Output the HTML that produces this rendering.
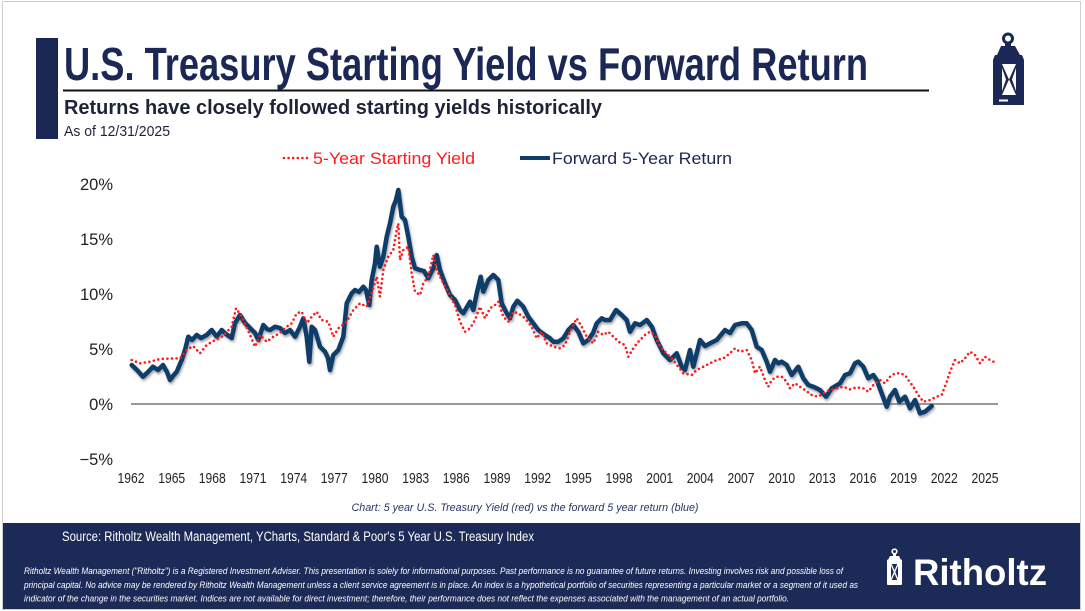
<!DOCTYPE html>
<html>
<head>
<meta charset="utf-8">
<style>
html,body{margin:0;padding:0;background:#fff;width:1085px;height:611px;overflow:hidden;}
svg{display:block;font-family:"Liberation Sans",sans-serif;}
</style>
</head>
<body>
<svg width="1085" height="611" viewBox="0 0 1085 611" xmlns="http://www.w3.org/2000/svg">
<defs>
<filter id="sh" x="-5%" y="-5%" width="110%" height="115%">
<feDropShadow dx="1" dy="2" stdDeviation="1.3" flood-color="#555" flood-opacity="0.55"/>
</filter>
</defs>
<rect x="0" y="0" width="1085" height="611" fill="#fff"/>
<rect x="2.5" y="1.5" width="1078" height="608" fill="none" stroke="#cfcfcf" stroke-width="1"/>

<!-- Header -->
<rect x="36" y="38" width="22" height="101" fill="#1b2754"/>
<text x="64" y="80" font-size="46" font-weight="bold" fill="#1b2754" textLength="804" lengthAdjust="spacingAndGlyphs">U.S. Treasury Starting Yield vs Forward Return</text>
<rect x="63" y="89.5" width="866" height="2" fill="#111"/>
<text x="64" y="114" font-size="20" font-weight="bold" fill="#1f2337" textLength="538" lengthAdjust="spacingAndGlyphs">Returns have closely followed starting yields historically</text>
<text x="64" y="136" font-size="15" fill="#1f2337" textLength="106" lengthAdjust="spacingAndGlyphs">As of 12/31/2025</text>

<!-- Header lantern -->
<g fill="#1b2754">
<circle cx="1008" cy="38.5" r="4.5" fill="none" stroke="#1b2754" stroke-width="3"/>
<rect x="1005" y="42" width="6" height="5"/>
<polygon points="997,55 1001,46 1015,46 1020,55"/>
<polygon points="995,55 1022,55 1024,60 1024,105 993,105 993,60"/>
<polygon points="1002,64 1016,64 1009,79.5" fill="#fff"/>
<polygon points="1002,95 1016,95 1009,79.5" fill="#fff"/>
<polygon points="1002,68 1006,79.5 1002,91" fill="#fff"/>
<polygon points="1016,68 1012,79.5 1016,91" fill="#fff"/>
<rect x="999" y="99.5" width="9" height="2" fill="#fff"/>
</g>

<!-- Legend -->
<line x1="284" y1="158" x2="311" y2="158" stroke="#ff1a1a" stroke-width="2.6" stroke-linecap="round" stroke-dasharray="0 4.6"/>
<text x="313" y="164" font-size="17" fill="#ff1a1a" textLength="162" lengthAdjust="spacingAndGlyphs">5-Year Starting Yield</text>
<line x1="520" y1="158" x2="550" y2="158" stroke="#0f3d6b" stroke-width="4"/>
<text x="552" y="164" font-size="17" fill="#1b2754" textLength="180" lengthAdjust="spacingAndGlyphs">Forward 5-Year Return</text>

<!-- Y axis labels -->
<g font-size="16.5" fill="#222" text-anchor="end">
<text x="113" y="190">20%</text>
<text x="113" y="245">15%</text>
<text x="113" y="300">10%</text>
<text x="113" y="355">5%</text>
<text x="113" y="410">0%</text>
<text x="113" y="465">−5%</text>
</g>

<!-- X axis labels -->
<g font-size="15" fill="#222" text-anchor="middle">
<text x="131" y="483" textLength="27" lengthAdjust="spacingAndGlyphs">1962</text>
<text x="171.7" y="483" textLength="27" lengthAdjust="spacingAndGlyphs">1965</text>
<text x="212.3" y="483" textLength="27" lengthAdjust="spacingAndGlyphs">1968</text>
<text x="253" y="483" textLength="27" lengthAdjust="spacingAndGlyphs">1971</text>
<text x="293.7" y="483" textLength="27" lengthAdjust="spacingAndGlyphs">1974</text>
<text x="334.3" y="483" textLength="27" lengthAdjust="spacingAndGlyphs">1977</text>
<text x="375" y="483" textLength="27" lengthAdjust="spacingAndGlyphs">1980</text>
<text x="415.7" y="483" textLength="27" lengthAdjust="spacingAndGlyphs">1983</text>
<text x="456.3" y="483" textLength="27" lengthAdjust="spacingAndGlyphs">1986</text>
<text x="497" y="483" textLength="27" lengthAdjust="spacingAndGlyphs">1989</text>
<text x="537.7" y="483" textLength="27" lengthAdjust="spacingAndGlyphs">1992</text>
<text x="578.3" y="483" textLength="27" lengthAdjust="spacingAndGlyphs">1995</text>
<text x="619" y="483" textLength="27" lengthAdjust="spacingAndGlyphs">1998</text>
<text x="659.7" y="483" textLength="27" lengthAdjust="spacingAndGlyphs">2001</text>
<text x="700.3" y="483" textLength="27" lengthAdjust="spacingAndGlyphs">2004</text>
<text x="741" y="483" textLength="27" lengthAdjust="spacingAndGlyphs">2007</text>
<text x="781.7" y="483" textLength="27" lengthAdjust="spacingAndGlyphs">2010</text>
<text x="822.3" y="483" textLength="27" lengthAdjust="spacingAndGlyphs">2013</text>
<text x="863" y="483" textLength="27" lengthAdjust="spacingAndGlyphs">2016</text>
<text x="903.7" y="483" textLength="27" lengthAdjust="spacingAndGlyphs">2019</text>
<text x="944.3" y="483" textLength="27" lengthAdjust="spacingAndGlyphs">2022</text>
<text x="985" y="483" textLength="27" lengthAdjust="spacingAndGlyphs">2025</text>
</g>

<!-- Zero line -->
<line x1="131" y1="404" x2="998" y2="404" stroke="#777" stroke-width="1.6"/>

<!-- Blue series -->
<polyline filter="url(#sh)" fill="none" stroke="#0f3d6b" stroke-width="4.5" stroke-linejoin="round" stroke-linecap="round" points="131.7,365 137,370 143,376.7 148,372 153,366.7 158,370 163,365 167,372 170,380 173,376 176.7,371.7 181.7,360 185,350 188.3,336.7 192,340 196.7,335 201,338 206.7,335 211.7,330 216.7,336.7 221.7,330 226,334 231.7,338 235,323 240,315 245,323 250,328 255,333 258.3,340 263.3,325 267,329 270,330 275,326.7 280,328 285,333 290,330 295,336.7 300,326.7 303.3,318.3 306.7,336.7 309.3,361.7 311.7,326.7 315,330 320,346.7 325,351.7 328,358 330,370 333.3,355 338.3,350 343.3,336.7 346.7,303.3 351.7,293.3 355,290 359,292 363.3,286.7 366,290 369.3,305 371.7,280 375,263.3 376.7,246.7 380,266.7 383.3,256.7 386.7,236.7 390,223.3 393.3,206.7 396,200 398.3,190 401.7,216.7 405,220 408.3,236.7 411.7,256.7 415,268.3 420,270 424,271 428.3,278.3 433.3,268.3 436.7,255 440,270 445,283.3 450,295 455,300 460,310 463.3,313.3 470,301.7 473.3,310 476.7,293.3 480.7,276.7 483.3,291.7 488.3,280 493.3,275 498.3,280 501.7,303.3 506.7,313.3 510,318.3 513.3,306.7 517.3,300.7 523.3,306.7 528.3,316.7 533.3,323.3 538.3,330 545,335 550,338.3 553.3,341.7 558.3,341.7 563.3,338.3 568.3,330 573.3,325 578.3,331.7 583.3,343.3 588.3,340 593,333 596.7,323.3 601.7,318.3 605,320 610,320 616,310 621.7,315 626.7,320 630,331.7 635,323.3 640,325 646.7,320 652,327 656.7,340 663.3,353.3 670,360 676.7,353.3 681.7,366.7 685,370 690,350 693.3,366.7 700,340 705,346 710,343.3 716.7,340 725,330 730,333 735,325 741.7,323.3 746.7,323.3 751.7,330 756.7,346.7 761.7,350 766.7,361.7 770,371.7 775,360 778.3,363.3 781.7,361.7 786.7,365 791.7,375 798.3,366.7 803.3,378.3 808.3,385 813.3,386.7 820,390 826,396.7 831.7,388.3 840,383.3 845,375 850,373.3 855,363.3 858.3,361.7 863.3,366.7 868.3,378.3 873.3,375 876.7,380 881.7,393.3 886.7,406.7 890,396.7 895,390 899.3,401.7 905,396.7 910,408.3 915,400 920,413.3 925,411.7 931.7,406"/>

<!-- Red series -->
<polyline fill="none" stroke="#ff1a1a" stroke-width="2.6" stroke-linecap="round" stroke-linejoin="round" stroke-dasharray="0 4.6" points="131.7,360 140,363.3 150,361.7 160,359 170,358.5 180,358.3 186.7,350 193,346 200,353.3 206.7,345 215,340 223,336 231.7,326.7 236,308.3 241.7,316.7 248,330 255,346.7 260,335 266.7,341.7 273.3,336.7 280,333 286.7,326.7 291.7,323.3 296.7,313.3 301.7,311.7 306.7,323.3 311.7,316.7 316.7,311.7 321.7,320 328.3,321.7 333.3,336.7 338.3,328.3 346.7,321.7 353.3,310 360,303.3 366.7,306.7 372,292 376.7,276.7 380,296.7 383.3,270 388.3,256.7 393.3,250 396.7,230 398.3,223.3 400,260 403.3,250 408.3,246.7 411.7,273.3 415,291.7 420,295 423.3,283.3 428.3,276.7 433.3,255 436.7,270 441.7,280 448.3,291.7 455,305 460,321.7 465,331.7 470,328.3 475,320 480,306.7 485,318.3 490,308.3 495,305 498.3,301.7 503.3,316.7 508.3,321.7 513.3,311.7 518.3,313.3 525,318.3 531.7,326.7 536.7,338.3 541.7,331.7 546.7,343.3 553.3,346.7 560,348.3 565,345 570,331.7 576.7,318.3 581.7,326.7 586.7,336.7 593.3,343.3 598.3,331.7 603.3,335 608.3,331.7 613.3,336.7 620,342.7 625,345 628.3,356.7 633.3,348.3 638.3,341.7 645,335 650,331.7 655,335 660,346.7 665,351.7 671.7,358.3 678.3,366.7 683.3,373.3 691.7,375 696.7,370 703.3,366.7 710,363.3 716.7,360 723.3,358.3 730,353.3 735,348.3 740,351.7 746.7,350 751.7,360 755,373.3 760,366.7 765,380 768.3,386.7 771.7,380 776.7,376.7 781.7,376.7 786.7,381.7 790,388.3 795,383.3 800,386.7 805,390 811.7,395 818.3,396.7 823.3,393.3 830,390 836.7,388.3 843.3,386.7 850,389.3 856.7,387.3 863.3,388.3 868.3,391.7 873.3,385 880,380 885,383.3 890,376.7 895,373.3 900,373.3 905,375 908.3,380 913.3,386.7 918.3,395 923.3,401.7 930,400 936.7,396.7 941.7,395 946.7,381.7 950,371.7 955,360 960,363.3 965,358.3 970,351.7 975,355 980,363.3 985,356.7 990,360 996.7,363.3"/>

<!-- Caption -->
<text x="525" y="511" font-size="11" font-style="italic" fill="#2a3560" text-anchor="middle" textLength="347" lengthAdjust="spacingAndGlyphs">Chart: 5 year U.S. Treasury Yield (red) vs the forward 5 year return (blue)</text>

<!-- Footer -->
<rect x="3" y="523" width="1077" height="86" fill="#1c2a57"/>
<text x="62" y="541" font-size="13.5" fill="#fff" textLength="472" lengthAdjust="spacingAndGlyphs">Source: Ritholtz Wealth Management, YCharts, Standard &amp; Poor's 5 Year U.S. Treasury Index</text>
<g font-size="9.5" font-style="italic" fill="#fff">
<text x="24" y="574" textLength="819" lengthAdjust="spacingAndGlyphs">Ritholtz Wealth Management ("Ritholtz") is a Registered Investment Adviser. This presentation is solely for informational purposes. Past performance is no guarantee of future returns. Investing involves risk and possible loss of</text>
<text x="24" y="588" textLength="834" lengthAdjust="spacingAndGlyphs">principal capital. No advice may be rendered by Ritholtz Wealth Management unless a client service agreement is in place. An index is a hypothetical portfolio of securities representing a particular market or a segment of it used as</text>
<text x="24" y="601.5" textLength="765" lengthAdjust="spacingAndGlyphs">indicator of the change in the securities market. Indices are not available for direct investment; therefore, their performance does not reflect the expenses associated with the management of an actual portfolio.</text>
</g>

<!-- Footer logo -->
<g fill="#fff">
<circle cx="894.5" cy="551.5" r="2.3" fill="none" stroke="#fff" stroke-width="1.6"/>
<rect x="893" y="553.5" width="3" height="2.5"/>
<polygon points="888,560 890,556 899,556 901,560"/>
<rect x="887" y="559.5" width="15" height="25.5" rx="1"/>
<rect x="891" y="564" width="7" height="16" fill="#1c2a57"/>
<line x1="891" y1="564" x2="898" y2="580" stroke="#fff" stroke-width="1.4"/>
<line x1="898" y1="564" x2="891" y2="580" stroke="#fff" stroke-width="1.4"/>
</g>
<text x="913" y="585" font-size="37" font-weight="bold" fill="#fff" textLength="134" lengthAdjust="spacingAndGlyphs">Ritholtz</text>
</svg>
</body>
</html>
